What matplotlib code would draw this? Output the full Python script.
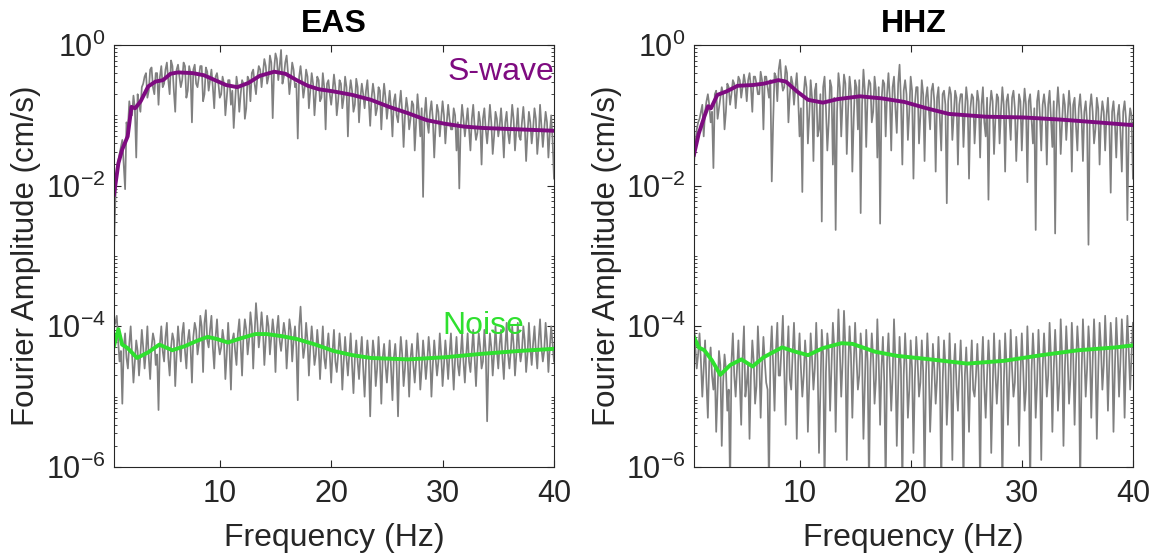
import numpy as np
import matplotlib
matplotlib.use("Agg")
import matplotlib.pyplot as plt
from matplotlib.ticker import FixedLocator, LogLocator, NullFormatter

plt.rcParams['font.family'] = ['Liberation Sans', 'DejaVu Sans']
plt.rcParams['mathtext.fontset'] = 'custom'
plt.rcParams['mathtext.rm'] = 'Liberation Sans'
plt.rcParams['mathtext.it'] = 'Liberation Sans:italic'

# ---- data (log10 of Fourier amplitude) ----
# raw spectra on the 0.25 Hz grid, 0.5 .. 40 Hz
eas_swave_raw = [
    -2.9, -1.75, -1.55, -1.35, -2.05, -1.2, -0.95, -0.72, -1.6, -0.85, -0.6,
    -0.45, -0.75, -0.35, -0.6, -0.4, -0.85, -0.3, -0.55, -0.25, -0.7, -0.3, -0.95, -0.28, -0.6,
    -0.25, -0.75, -0.3, -1.1, -0.28, -0.6, -0.3, -0.8, -0.32, -0.65, -0.35, -0.9, -0.4, -0.75,
    -0.45, -1.0, -0.5, -0.85, -1.18, -0.45, -0.95, -0.5, -1.05, -0.45, -0.8, -0.35, -0.7, -0.3,
    -0.6, -0.2, -0.55, -0.15, -1.04, -0.12, -0.5, -0.07, -0.45, -0.15, -0.7, -0.25, -0.6, -1.33,
    -0.3, -0.75, -0.35, -0.9,
    -0.4, -1.0, -0.45, -0.8, -0.4, -1.2, -0.5, -0.85, -0.42, -1.0, -0.5, -0.9, -0.45, -1.3,
    -0.5, -0.95, -0.48, -1.1, -0.55, -0.9, -0.5, -1.15, -0.55, -1.0, -0.6, -1.2, -0.55, -1.05,
    -0.65, -1.3, -0.7, -1.1, -0.65, -1.45, -0.75, -1.2, -0.8, -1.5, -0.7, -1.3, -2.16, -0.75,
    -1.25, -0.8, -1.6, -0.85, -1.3, -0.8, -1.4, -0.85, -1.2, -0.9, -1.5, -2.04, -0.85, -1.3,
    -0.9, -1.5, -0.85, -1.35, -0.95, -1.7, -0.9, -1.4, -0.85, -1.55, -0.95, -1.3, -0.9, -1.6,
    -0.95, -1.4, -0.85, -1.5, -0.9, -1.35, -0.88, -1.65, -0.95, -1.4, -0.9, -1.55, -0.85, -1.45,
    -0.95, -1.6, -1.0, -1.9,
]
eas_noise_raw = [
    -4.0, -3.85, -4.5, -5.1, -4.1, -4.6, -4.0, -4.8, -4.2, -4.7, -4.05,
    -4.6, -4.0, -4.75, -4.1, -4.55, -5.19, -4.0, -4.5, -3.95, -4.7, -4.1, -4.85, -4.0, -4.5,
    -3.95, -4.6, -4.05, -4.8, -3.95, -4.4, -3.85, -4.65, -3.77, -4.3, -3.85, -4.6, -3.9, -4.4,
    -4.05, -4.75, -3.95, -4.9, -4.1, -4.55, -3.9, -4.7, -3.9, -4.4, -3.8, -4.6, -3.67, -4.3,
    -3.8, -4.55, -3.85, -4.4, -3.9, -4.65, -3.85, -4.35, -3.95, -4.6, -3.9, -4.5, -4.0, -5.05,
    -3.72, -4.45, -3.95, -4.7,
    -4.0, -4.55, -4.05, -4.75, -4.0, -4.6, -4.1, -4.8, -4.05, -4.65, -4.1, -4.9, -4.15, -4.7,
    -4.1, -4.95, -4.2, -4.75, -4.15, -5.0, -4.2, -5.28, -4.2, -4.85, -4.15, -5.1, -4.25, -4.8,
    -4.2, -5.05, -4.25, -5.28, -4.15, -4.85, -4.2, -5.0, -4.25, -4.8, -4.1, -4.9, -4.2, -4.75,
    -4.15, -5.0, -4.2, -4.7, -4.1, -4.85, -4.2, -4.75, -4.1, -4.9, -4.15, -4.7, -4.1, -4.8,
    -4.1, -4.65, -4.05, -4.85, -4.1, -4.6, -4.05, -5.35, -4.1, -4.7, -4.0, -4.6, -4.05, -4.75,
    -3.95, -4.6, -4.0, -4.7, -3.95, -4.5, -4.0, -4.65, -3.95, -4.55, -4.0, -4.6, -3.9, -4.5,
    -3.95, -4.65, -4.0, -4.5,
]
hhz_swave_raw = [
    -1.7, -1.2, -1.05, -0.85, -0.95, -0.7, -1.1, -1.75, -0.65, -0.9, -0.6,
    -1.2, -0.55, -0.85, -0.5, -0.9, -0.45, -0.75, -0.42, -0.8, -0.4, -0.95, -0.45, -0.7, -0.38,
    -1.2, -0.45, -0.75, -1.94, -0.4, -0.8, -0.21, -0.65, -0.3, -1.1, -0.45, -0.85, -0.4, -1.3,
    -2.09, -0.45, -1.4, -0.5, -1.65, -0.55, -1.2, -2.51, -0.45, -1.5, -0.5, -1.7, -2.63, -0.4,
    -1.3, -0.42, -1.55, -0.45, -1.8, -0.5, -1.2, -2.39, -0.35, -1.45, -0.5, -1.1, -0.45, -1.6,
    -2.54, -0.5, -1.3, -0.4,
    -1.5, -0.45, -1.25, -0.28, -1.7, -0.5, -1.35, -0.45, -1.9, -0.6, -1.4, -0.5, -1.65, -0.6,
    -1.2, -0.55, -1.8, -0.6, -1.5, -0.65, -2.25, -0.6, -1.35, -0.65, -1.7, -0.7, -1.45, -0.6,
    -1.9, -0.7, -1.4, -0.65, -1.6, -0.6, -1.3, -2.2, -0.65, -1.55, -0.7, -1.4, -0.6, -1.8,
    -0.7, -1.35, -0.65, -1.65, -0.7, -1.5, -0.62, -1.95, -0.7, -1.4, -2.63, -0.65, -1.5, -0.7,
    -1.7, -0.65, -1.45, -2.68, -0.6, -1.55, -0.7, -1.35, -0.65, -1.8, -0.75, -1.5, -0.7, -1.65,
    -0.8, -2.84, -0.7, -1.4, -0.75, -1.7, -0.8, -1.5, -0.75, -2.1, -0.8, -1.6, -0.85, -1.8,
    -0.8, -2.49, -0.9, -1.9,
]
hhz_noise_raw = [
    -3.95, -4.6, -4.1, -5.0, -4.2, -5.3, -4.3, -4.9, -5.5, -4.35, -5.7,
    -4.4, -5.2, -6.3, -4.1, -5.0, -4.2, -5.4, -4.0, -4.8, -5.6, -4.2, -5.1, -4.0, -5.3,
    -4.15, -4.8, -6.3, -4.0, -5.2, -3.95, -4.7, -3.85, -5.4, -4.0, -4.9, -3.95, -5.6, -4.1,
    -5.0, -4.2, -5.5, -4.1, -4.9, -3.95, -5.8, -4.05, -6.3, -4.1, -5.2, -3.95, -5.5, -3.76,
    -5.0, -3.78, -5.9, -4.0, -5.3, -3.95, -4.9, -4.1, -5.6, -4.05, -6.3, -4.1, -5.1, -3.9,
    -5.4, -4.15, -6.3, -4.1,
    -5.2, -3.9, -5.7, -4.15, -6.3, -4.1, -5.3, -4.2, -5.8, -4.15, -5.0, -4.2, -6.3, -4.1,
    -5.5, -4.25, -5.1, -4.15, -6.3, -4.2, -5.4, -4.1, -5.9, -4.25, -5.2, -4.2, -6.3, -4.3,
    -5.5, -4.2, -5.0, -4.25, -6.3, -4.15, -5.3, -4.2, -5.8, -4.1, -5.1, -4.2, -6.3, -4.1,
    -5.4, -4.05, -5.0, -4.15, -5.7, -4.1, -5.2, -4.0, -6.3, -4.1, -5.3, -4.05, -5.9, -4.1,
    -5.0, -3.95, -5.5, -4.05, -5.2, -3.9, -5.7, -4.0, -5.1, -3.95, -5.4, -4.0, -6.3, -3.9,
    -5.0, -4.0, -5.3, -3.9, -5.6, -3.95, -4.9, -3.85, -5.2, -3.95, -5.5, -3.88, -5.0, -3.9,
    -5.3, -3.85, -4.9, -3.95,
]

# in-between samples, 0.625 .. 39.875 Hz
eas_swave_mid = [
    -2.2, -1.65, -1.45, -1.7, -1.1, -0.8, -1.0, -0.9, -0.7, -0.95,
    -0.55, -0.4, -0.65, -0.32, -0.7, -0.4, -0.45, -0.6, -0.35, -0.5, -0.22, -0.65, -0.35, -0.45,
    -0.5, -0.3, -0.65, -0.4, -0.35, -0.55, -0.45, -0.3, -0.7, -0.38, -0.5, -0.6, -0.45, -0.55,
    -0.7, -0.55, -0.75, -0.5, -0.65, -0.8, -0.6, -0.7, -0.55, -0.9, -0.5, -0.4, -0.55, -0.45,
    -0.35, -0.4, -0.3, -0.45, -0.25, -0.35, -0.2, -0.3, -0.55, -0.25, -0.4, -0.5, -0.35, -0.55,
    -0.45, -0.5, -0.6, -0.45,
    -0.65, -0.55, -0.7, -0.5, -0.75, -0.6, -0.55, -0.7, -0.65, -0.6, -0.8, -0.55, -0.75, -0.6,
    -0.7, -0.65, -0.85, -0.6, -0.75, -0.7, -0.65, -0.8, -0.75, -0.7, -0.9, -0.65, -0.8, -0.75,
    -0.85, -0.9, -0.8, -1.0, -0.85, -0.95, -1.0, -0.9, -1.05, -0.85, -1.1, -0.95, -0.9, -1.0,
    -1.1, -0.95, -1.05, -1.15, -0.95, -1.05, -1.0, -1.1, -1.05, -1.2, -1.0, -1.1, -1.15, -1.05,
    -1.1, -1.2, -1.05, -1.15, -1.25, -1.1, -1.05, -1.2, -1.15, -1.1, -1.3, -1.05, -1.15, -1.2,
    -1.1, -1.25, -1.15, -1.05, -1.2, -1.3, -1.1, -1.15, -1.25, -1.1, -1.2, -1.05, -1.3, -1.15,
    -1.2, -1.1, -1.25, -1.35,
]
eas_noise_mid = [
    -3.95, -4.2, -4.35, -4.3, -4.45, -4.25, -4.4, -4.5, -4.35, -4.4,
    -4.3, -4.35, -4.45, -4.3, -4.2, -4.4, -4.25, -4.35, -4.15, -4.45, -4.3, -4.2, -4.4, -4.25,
    -4.1, -4.35, -4.2, -4.3, -4.15, -4.05, -4.25, -4.0, -3.95, -4.2, -4.05, -4.3, -4.15, -4.25,
    -4.3, -4.2, -4.4, -4.3, -4.2, -4.35, -4.1, -4.25, -4.15, -4.05, -4.2, -4.0, -4.1, -3.95,
    -4.1, -4.05, -4.2, -4.0, -4.15, -4.1, -4.05, -4.2, -4.15, -4.1, -4.25, -4.05, -4.2, -4.3,
    -4.0, -4.15, -4.3, -4.2,
    -4.3, -4.25, -4.4, -4.3, -4.35, -4.45, -4.3, -4.4, -4.35, -4.5, -4.4, -4.35, -4.5, -4.45,
    -4.4, -4.55, -4.45, -4.5, -4.4, -4.6, -4.5, -4.45, -4.55, -4.4, -4.6, -4.5, -4.45, -4.55,
    -4.5, -4.6, -4.45, -4.55, -4.5, -4.4, -4.6, -4.5, -4.45, -4.55, -4.5, -4.4, -4.6, -4.45,
    -4.5, -4.4, -4.55, -4.45, -4.5, -4.4, -4.55, -4.45, -4.4, -4.5, -4.45, -4.55, -4.4, -4.5,
    -4.4, -4.5, -4.35, -4.45, -4.4, -4.3, -4.5, -4.35, -4.45, -4.3, -4.4, -4.35, -4.25, -4.45,
    -4.3, -4.4, -4.35, -4.25, -4.4, -4.3, -4.35, -4.2, -4.4, -4.3, -4.25, -4.35, -4.2, -4.3,
    -4.35, -4.2, -4.3, -4.25,
]
hhz_swave_mid = [
    -1.4, -1.1, -0.95, -1.3, -0.8, -0.85, -0.95, -0.7, -1.05, -0.75,
    -0.7, -0.95, -0.6, -0.7, -0.55, -0.65, -0.5, -0.6, -0.55, -0.5, -0.6, -0.45, -0.55, -0.7,
    -0.5, -0.45, -0.6, -0.5, -1.1, -0.45, -0.35, -0.5, -0.6, -0.4, -0.7, -0.55, -0.6, -0.75,
    -0.9, -0.7, -0.6, -1.0, -0.75, -0.65, -1.3, -0.7, -0.6, -0.9, -1.1, -0.6, -0.75, -0.95,
    -0.6, -0.8, -0.55, -0.9, -0.65, -1.05, -0.6, -0.5, -0.85, -0.65, -0.7, -0.55, -0.95, -0.65,
    -0.6, -0.8, -0.55, -0.7,
    -0.75, -0.6, -0.9, -0.55, -0.8, -0.65, -0.7, -0.95, -0.65, -0.85, -0.6, -1.0, -0.7, -0.75,
    -0.9, -0.65, -0.8, -0.75, -1.05, -0.7, -0.85, -0.8, -0.7, -1.0, -0.75, -0.85, -0.7, -0.95,
    -0.8, -0.9, -0.75, -1.0, -0.8, -0.85, -1.1, -0.75, -0.9, -0.8, -1.05, -0.75, -0.95, -0.85,
    -0.8, -1.0, -0.75, -0.9, -1.1, -0.8, -0.95, -0.85, -0.8, -1.05, -0.9, -0.8, -1.0, -0.85,
    -0.9, -0.85, -1.05, -0.8, -0.95, -0.9, -1.1, -0.85, -1.0, -0.9, -0.85, -1.15, -0.9, -1.0,
    -0.95, -1.1, -0.9, -0.95, -1.2, -0.9, -1.05, -0.95, -1.0, -1.15, -0.95, -1.1, -1.0, -1.25,
    -0.95, -1.05, -1.15, -1.0,
]
hhz_noise_mid = [
    -4.3, -4.4, -4.5, -4.6, -4.8, -4.5, -4.7, -4.6, -4.9, -4.55,
    -4.8, -4.6, -4.9, -4.5, -4.7, -4.6, -4.8, -4.45, -5.0, -4.55, -4.7, -4.5, -4.85, -4.45,
    -4.6, -4.5, -4.9, -4.4, -4.55, -4.35, -4.7, -4.3, -4.6, -4.45, -4.75, -4.4, -4.55, -4.5,
    -4.6, -4.7, -4.5, -4.8, -4.45, -4.6, -4.5, -4.9, -4.4, -4.65, -4.35, -4.55, -4.3, -4.5,
    -4.35, -4.5, -4.3, -4.6, -4.4, -4.55, -4.45, -4.7, -4.4, -4.8, -4.5, -4.6, -4.45, -4.75,
    -4.5, -4.6, -4.8, -4.5,
    -4.6, -4.7, -4.5, -4.85, -4.6, -4.7, -4.55, -4.9, -4.6, -4.75, -4.5, -4.8, -4.65, -4.7,
    -4.55, -4.95, -4.6, -4.75, -4.65, -4.8, -4.55, -4.9, -4.7, -4.6, -4.85, -4.65, -4.75, -4.7,
    -4.8, -4.65, -4.9, -4.7, -4.75, -4.6, -4.85, -4.7, -4.6, -4.9, -4.65, -4.7, -4.6, -4.85,
    -4.55, -4.75, -4.6, -4.8, -4.5, -4.7, -4.6, -4.9, -4.55, -4.65, -4.5, -4.8, -4.55, -4.6,
    -4.5, -4.7, -4.45, -4.6, -4.5, -4.8, -4.4, -4.6, -4.45, -4.75, -4.4, -4.55, -4.35, -4.7,
    -4.4, -4.6, -4.35, -4.5, -4.4, -4.65, -4.3, -4.55, -4.35, -4.5, -4.3, -4.6, -4.35, -4.5,
    -4.3, -4.45, -4.35, -4.4,
]

# smoothed spectra: (frequency Hz, log10 amplitude)
eas_swave_f = [0.5, 0.9, 1.23, 1.73, 2.07, 2.4, 2.9, 3.57, 4.23, 4.9, 5.57, 6.23, 7.57, 8.57,
               9.57, 10.57, 11.57, 12.57, 13.57, 14.9, 15.9, 16.9, 17.9, 18.9, 20.2, 21.9,
               23.57, 25.2, 26.9, 28.6, 30.2, 31.9, 33.6, 36.9, 40.0]
eas_swave_s = [-2.13, -1.68, -1.49, -1.30, -0.88, -0.90, -0.80, -0.59, -0.52, -0.50, -0.41,
               -0.39, -0.40, -0.43, -0.50, -0.57, -0.60, -0.54, -0.44, -0.38, -0.41, -0.50,
               -0.58, -0.63, -0.66, -0.71, -0.78, -0.88, -0.97, -1.07, -1.12, -1.16, -1.18,
               -1.20, -1.22]
eas_noise_f = [0.5, 0.9, 1.23, 1.73, 2.57, 3.57, 4.57, 5.73, 6.9, 7.9, 8.9, 9.73, 10.73, 11.9,
               13.2, 14.2, 15.57, 16.9, 18.6, 20.2, 21.9, 23.57, 26.9, 30.2, 33.6, 36.9, 40.0]
eas_noise_s = [-4.28, -4.04, -4.26, -4.31, -4.45, -4.37, -4.26, -4.34, -4.28, -4.21, -4.15,
               -4.18, -4.23, -4.17, -4.11, -4.11, -4.14, -4.18, -4.26, -4.35, -4.41, -4.45,
               -4.47, -4.44, -4.39, -4.35, -4.32]
hhz_swave_f = [0.5, 0.93, 1.43, 1.77, 2.03, 2.6, 3.43, 4.43, 5.77, 6.77, 8.1, 8.77, 9.77,
               10.77, 12.1, 13.43, 15.43, 17.43, 19.43, 21.43, 23.43, 26.77, 30.1, 33.43,
               36.77, 40.0]
hhz_swave_s = [-1.56, -1.26, -1.02, -0.87, -0.90, -0.71, -0.66, -0.58, -0.57, -0.55, -0.50,
               -0.52, -0.66, -0.78, -0.82, -0.77, -0.73, -0.76, -0.81, -0.90, -0.98, -1.02,
               -1.03, -1.06, -1.10, -1.14]
hhz_noise_f = [0.5, 0.93, 1.43, 2.1, 2.87, 3.77, 4.77, 5.77, 6.77, 8.43, 9.6, 10.77, 12.1,
               13.77, 14.77, 16.77, 18.77, 21.77, 25.1, 28.43, 31.77, 35.1, 38.43, 40.0]
hhz_noise_s = [-4.15, -4.30, -4.34, -4.48, -4.69, -4.55, -4.47, -4.57, -4.44, -4.30, -4.36,
               -4.41, -4.31, -4.24, -4.25, -4.36, -4.42, -4.47, -4.53, -4.49, -4.41, -4.34,
               -4.30, -4.27]

titles = ['EAS', 'HHZ']

GRAY = '#808080'
PURPLE = '#7e0b80'
GREEN = '#2fe02f'
AXC = '#262626'


def spectrum(main, mid):
    # put the 0.25 Hz samples and the in-between ones back in frequency order
    f = np.concatenate([np.linspace(0.5, 40, len(main)), np.linspace(0.625, 39.875, len(mid))])
    v = np.concatenate([main, mid])
    order = np.argsort(f, kind='stable')
    return f[order], 10.0 ** v[order]


fig = plt.figure(figsize=(11.57, 5.58), dpi=100)
ax1 = fig.add_axes([0.0985, 0.1631, 0.3803, 0.7563])
ax2 = fig.add_axes([0.5998, 0.1631, 0.3794, 0.7563])

panels = [
    (ax1, eas_swave_raw, eas_swave_mid, eas_noise_raw, eas_noise_mid,
     eas_swave_f, eas_swave_s, eas_noise_f, eas_noise_s),
    (ax2, hhz_swave_raw, hhz_swave_mid, hhz_noise_raw, hhz_noise_mid,
     hhz_swave_f, hhz_swave_s, hhz_noise_f, hhz_noise_s),
]

for k, (ax, sraw, smid, nraw, nmid, sf, ss, nf, ns) in enumerate(panels):
    fs, vs = spectrum(sraw, smid)
    fn, vn = spectrum(nraw, nmid)
    ax.plot(fs, vs, color=GRAY, lw=1.25)
    ax.plot(fn, vn, color=GRAY, lw=1.25)
    ax.plot(sf, 10.0 ** np.array(ss), color=PURPLE, lw=2.8)
    ax.plot(nf, 10.0 ** np.array(ns), color=GREEN, lw=2.8)

    ax.set_yscale('log')
    ax.set_xlim(0.5, 40)
    ax.set_ylim(1e-6, 1)

    ax.xaxis.set_major_locator(FixedLocator([10, 20, 30, 40]))
    ax.yaxis.set_major_locator(FixedLocator([1e-6, 1e-4, 1e-2, 1]))
    ax.set_yticklabels(['$10^{-6}$', '$10^{-4}$', '$10^{-2}$', '$10^{0}$'])
    ax.yaxis.set_minor_locator(LogLocator(base=10, subs=np.arange(1, 10), numticks=20))
    ax.yaxis.set_minor_formatter(NullFormatter())

    ax.tick_params(which='both', direction='in', top=True, right=True,
                   colors=AXC, labelcolor=AXC)
    ax.tick_params(which='major', length=5, width=0.8, labelsize=22)
    ax.tick_params(axis='x', which='major', pad=9)
    ax.tick_params(axis='y', which='major', pad=6)
    ax.tick_params(which='minor', length=2.5, width=0.6)
    for sp in ax.spines.values():
        sp.set_color(AXC)
        sp.set_linewidth(0.8)

    ax.set_title(titles[k], fontsize=23, fontweight='bold', pad=9)
    ax.set_xlabel('Frequency (Hz)', fontsize=23, color=AXC)
    ax.set_ylabel('Fourier Amplitude (cm/s)', fontsize=22.5, color=AXC)
    ax.yaxis.set_label_coords(-0.165, 0.5)
    ax.xaxis.set_label_coords(0.5, -0.133)

ax1.text(40, 10 ** -0.38, 'S-wave', color=PURPLE, fontsize=23, ha='right', va='center')
ax1.text(30, 10 ** -4.0, 'Noise', color=GREEN, fontsize=23, ha='left', va='center')

fig.savefig('out.png', dpi=100)
